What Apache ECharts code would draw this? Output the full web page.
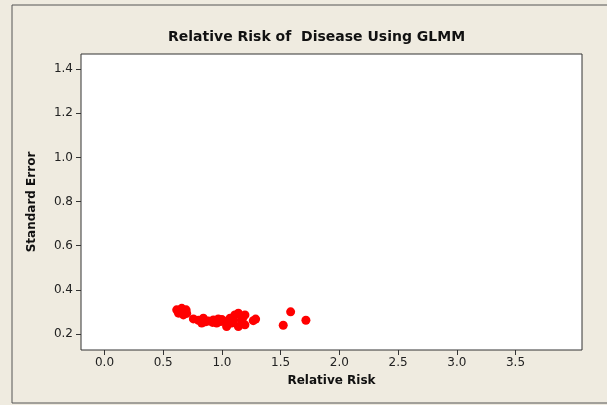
<!DOCTYPE html>
<html><head><meta charset="utf-8">
<script src="https://cdn.jsdelivr.net/npm/echarts@6/dist/echarts.min.js"></script>
<style>html,body{margin:0;padding:0;background:#efebe0;}#c{width:607px;height:405px;}</style>
</head><body><div id="c"></div>
<script>
const xTicks = [0.0, 0.5, 1.0, 1.5, 2.0, 2.5, 3.0, 3.5];
const yTicks = [0.2, 0.4, 0.6, 0.8, 1.0, 1.2, 1.4];
const relativeRisk = [0.615,0.658,0.695,0.63,0.672,0.64,0.70,0.757,0.80,0.842,0.828,0.884,0.86,0.927,0.969,0.955,0.99,1.012,1.04,1.069,1.083,1.10,1.14,1.168,1.14,1.196,1.196,1.11,1.06,1.18,1.287,1.267,0.92,1.0,1.522,1.585,1.715];
const standardError = [0.309,0.316,0.309,0.294,0.286,0.300,0.293,0.268,0.262,0.271,0.249,0.259,0.255,0.263,0.268,0.249,0.256,0.259,0.233,0.271,0.249,0.262,0.294,0.263,0.233,0.286,0.241,0.286,0.248,0.275,0.267,0.260,0.252,0.265,0.239,0.300,0.262];
const points = relativeRisk.map((v,i)=>[v, standardError[i]]);
const chart = echarts.init(document.getElementById('c'));
const font = 'DejaVu Sans';
chart.setOption({
  backgroundColor: '#efebe0',
  animation: false,
  title: {text: 'Relative Risk of  Disease Using GLMM', left: 163, top: 25,
    textStyle: {fontFamily: font, fontSize: 14, fontWeight: 'bold', color: '#111'}},
  graphic: [{type:'rect', shape:{x:12, y:5, width:620, height:398}, style:{fill:'none', stroke:'#555', lineWidth:1}, silent:true}],
  grid: {left: 81, top: 54, right: 25, bottom: 55, show: true, backgroundColor: '#fff', borderColor: '#333', borderWidth: 1},
  xAxis: {type: 'value', min: -0.2, max: 4.066, splitLine:{show:false},
    axisLine:{show:false, onZero:false},
    axisTick:{show:true, length:5, lineStyle:{color:'#333'}, customValues: xTicks},
    axisLabel:{customValues: xTicks, formatter: v=>v.toFixed(1), fontFamily: font, fontSize: 12, color:'#222', margin: 7},
    name: 'Relative Risk', nameLocation: 'middle', nameGap: 25,
    nameTextStyle:{fontFamily: font, fontSize: 12, fontWeight:'bold', color:'#111'}},
  yAxis: {type: 'value', min: 0.127, max: 1.469, splitLine:{show:false},
    axisLine:{show:false, onZero:false},
    axisTick:{show:true, length:5, lineStyle:{color:'#333'}, customValues: yTicks},
    axisLabel:{customValues: yTicks, formatter: v=>v.toFixed(1), fontFamily: font, fontSize: 12, color:'#222', margin: 8},
    name: 'Standard Error', nameLocation: 'middle', nameGap: 43,
    nameTextStyle:{fontFamily: font, fontSize: 12, fontWeight:'bold', color:'#111'}},
  series: [{type: 'scatter', data: points, symbolSize: 9, itemStyle:{color:'#ff0000', opacity:1}}]
});
</script></body></html>
